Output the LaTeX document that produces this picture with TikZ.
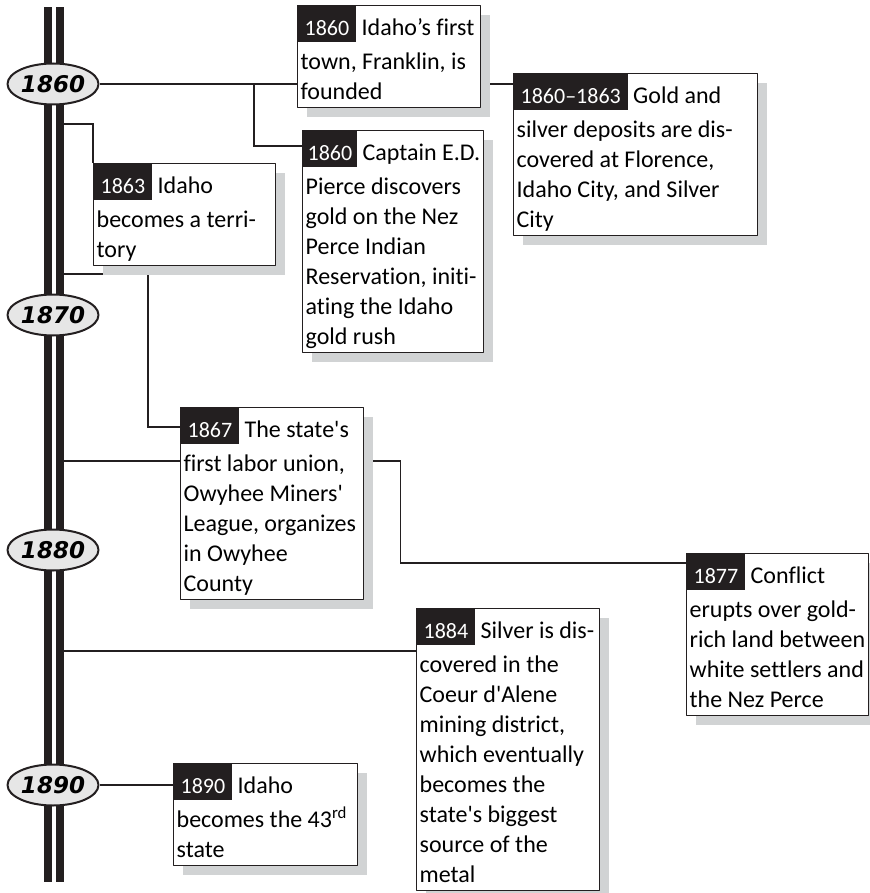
\documentclass[tikz,border=0pt]{standalone}
\usepackage{fontspec}
\setmainfont{Carlito}[Ligatures=NoCommon]
\newfontfamily\ovalfont{DejaVu Sans}
\usetikzlibrary{shapes.geometric,shadows,backgrounds}
\definecolor{ink}{RGB}{35,31,32}
\definecolor{shadegray}{RGB}{209,211,212}
\definecolor{ovalgray}{RGB}{230,230,230}
\newcommand\yrbox[2][7pt]{\hspace*{-3pt}{\setlength\fboxsep{0pt}\colorbox{ink}{\rule[-6pt]{0pt}{36pt}\hspace{#1}{\color{white}\fontsize{22}{22}\selectfont #2}\hspace{#1}}}}
\newcommand\firstline[4][7pt]{\makebox[#2][l]{\yrbox[#1]{#3}\ #4}\\[4pt]}
\newcommand\lastpad{\rule[-8pt]{0pt}{0pt}}
\begin{document}
\begin{tikzpicture}[x=1pt, y=-1pt, line join=round,
	event/.style={draw=ink, line width=1.3pt, fill=white, anchor=north west,
		inner xsep=3pt, inner ysep=0pt, align=left, font=\fontsize{24}{30}\selectfont,
		drop shadow={shadow xshift=9pt, shadow yshift=-9pt, fill=shadegray, opacity=1}},
	yearoval/.style={ellipse, draw=ink, line width=2pt, fill=ovalgray, minimum width=91pt,
		minimum height=41pt, inner sep=0pt, font=\ovalfont\bfseries\itshape\fontsize{23}{23}\selectfont},
	conn/.style={draw=ink, line width=1.2pt}]
	\useasboundingbox (0,0) rectangle (869,893);
	\foreach \x in {44,56} \fill[ink] (\x,7) rectangle ++(8,875);
	\foreach \d/\yy in {60/84,70/315,80/550,90/785} \node[yearoval] (y\d) at (53,\yy) {18\d};
	\coordinate (d63) at (64,124);
	\coordinate (e67a) at (64,274);
	\coordinate (e67b) at (64,461);
	\coordinate (g84) at (64,651);
	\coordinate (j60) at (254,84);
	\node[event] (A) at (297,5) {\firstline{177pt}{1860}{Idaho’s first}town, Franklin, is\\founded\lastpad};
	\node[event] (B) at (302,130) {\firstline[5pt]{175pt}{1860}{Captain E.D.}Pierce discovers\\gold on the Nez\\Perce Indian\\Reservation, initi-\\ating the Idaho\\gold rush\lastpad};
	\node[event] (C) at (513,73) {\firstline{238pt}{1860–1863}{Gold and}silver deposits are dis-\\covered at Florence,\\Idaho City, and Silver\\City\lastpad};
	\node[event] (D) at (93,163) {\firstline{176pt}{1863}{Idaho}becomes a terri-\\tory\lastpad};
	\node[event] (E) at (180,407) {\firstline{177pt}{1867}{The state\textquotesingle s}first labor union,\\Owyhee Miners\textquotesingle\\League, organizes\\in Owyhee\\County\lastpad};
	\node[event] (F) at (686,553) {\firstline{174pt}{1877}{Conflict}erupts over gold-\\rich land between\\white settlers and\\the Nez Perce\lastpad};
	\node[event] (G) at (416,608) {\firstline{177pt}{1884}{Silver is dis-}covered in the\\Coeur d\textquotesingle Alene\\mining district,\\which eventually\\becomes the\\state\textquotesingle s biggest\\source of the\\metal\lastpad};
	\node[event] (H) at (173,763) {\firstline{178pt}{1890}{Idaho}becomes the 43\textsuperscript{rd}\\state\lastpad};
	\begin{scope}[on background layer]
		\draw[conn] (y60.east) -- (y60.east -| A.west);
		\draw[conn] (j60) |- ([yshift=-16pt]B.north west);
		\draw[conn] (y60.east -| A.east) -- (y60.east -| C.west);
		\draw[conn] (d63) -| (D.north west);
		\draw[conn] (e67a) -- ++(84,0) |- ([yshift=-20pt]E.north west);
		\draw[conn] (e67b) -- (e67b -| E.west);
		\draw[conn] (e67b -| E.east) -- ++(36,0) |- ([yshift=-10pt]F.north west);
		\draw[conn] (g84) -- (g84 -| G.west);
		\draw[conn] (y90.east) -- (y90.east -| H.west);
	\end{scope}
\end{tikzpicture}
\end{document}
